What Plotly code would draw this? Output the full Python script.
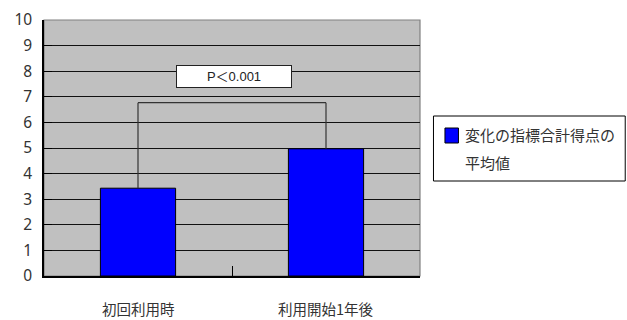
import plotly.graph_objects as go

# Mean total score of the change indicators
categories = ["初回利用時", "利用開始1年後"]
mean_scores = [3.43, 4.97]
legend_lines = ["変化の指標合計得点の", "平均値"]
y_ticks = [0, 1, 2, 3, 4, 5, 6, 7, 8, 9, 10]

# Significance bracket and label
bracket_level = 6.77
p_label = "P＜0.001"
p_label_y = 7.8

jp_font = "Noto Sans CJK JP"
bar_color = "#0000FF"

fig = go.Figure()
fig.add_trace(go.Bar(
    x=categories,
    y=mean_scores,
    name="".join(legend_lines),
    marker=dict(color=bar_color, line=dict(color="#000000", width=1)),
    width=0.4,
    showlegend=False,
))

# Bracket between the two bars
line_style = dict(color="#333333", width=1.2)
fig.add_shape(type="line", xref="x", yref="y", x0=0, x1=0,
              y0=mean_scores[0], y1=bracket_level, line=line_style)
fig.add_shape(type="line", xref="x", yref="y", x0=0, x1=1,
              y0=bracket_level, y1=bracket_level, line=line_style)
fig.add_shape(type="line", xref="x", yref="y", x0=1, x1=1,
              y0=bracket_level, y1=mean_scores[1], line=line_style)

fig.add_annotation(
    xref="x", yref="y", x=0.51, y=p_label_y,
    text=p_label, showarrow=False,
    font=dict(family="Liberation Sans, " + jp_font, size=13, color="#222222"),
    bgcolor="#FFFFFF", bordercolor="#222222", borderwidth=1,
    width=112, height=19, borderpad=1,
)

# Plot frame
fig.add_shape(type="rect", xref="paper", yref="paper", x0=0, x1=1, y0=0, y1=1,
              line=dict(color="#808080", width=1.2), layer="below")

# Paper-coordinate helpers (plot spans 44..420.5 px horizontally, 20..276 px vertically)
pw, ph = 376.5, 256.0
def px_x(v):
    return (v - 44) / pw
def px_y(v):
    return (276 - v) / ph

# Category labels set well below the axis
for cat in categories:
    fig.add_annotation(
        xref="x", yref="paper", x=cat, y=px_y(308.5),
        xanchor="center", yanchor="middle", text=cat, showarrow=False,
        font=dict(family=jp_font, size=14.5, color="#333333"),
        borderpad=0,
    )

# Legend box
fig.add_shape(type="rect", xref="paper", yref="paper",
              x0=px_x(434), x1=px_x(626), y0=px_y(181), y1=px_y(116),
              line=dict(color="#000000", width=1), fillcolor="#FFFFFF")
fig.add_shape(type="rect", xref="paper", yref="paper",
              x0=px_x(445.5), x1=px_x(459), y0=px_y(143), y1=px_y(128),
              line=dict(color="#000000", width=1), fillcolor=bar_color)
for i, line_text in enumerate(legend_lines):
    fig.add_annotation(
        xref="paper", yref="paper", x=px_x(464), y=px_y(134.5 + 27.5 * i),
        xanchor="left", yanchor="middle", text=line_text, showarrow=False,
        font=dict(family=jp_font, size=15, color="#333333"),
    )

fig.update_layout(
    width=627, height=320,
    margin=dict(l=44, r=206.5, t=20, b=44, autoexpand=False),
    paper_bgcolor="#FFFFFF",
    plot_bgcolor="#C0C0C0",
    bargap=0.6,
    font=dict(family=jp_font, color="#333333"),
    xaxis=dict(
        type="category", automargin=False,
        tickson="boundaries", ticks="inside", ticklen=10, tickcolor="#000000",
        showline=True, linecolor="#000000", linewidth=1.5,
        showgrid=False, showticklabels=False,
    ),
    yaxis=dict(
        range=[0, 10], tickvals=y_ticks, automargin=False,
        ticks="inside", ticklen=8, tickcolor="#000000",
        showline=True, linecolor="#000000", linewidth=1.5,
        showgrid=True, gridcolor="#111111", gridwidth=1.2,
        zeroline=False,
        tickfont=dict(family="Noto Sans", size=15.5, color="#333333"),
        ticklabelstandoff=7,
    ),
)

fig.write_html("out.html")
